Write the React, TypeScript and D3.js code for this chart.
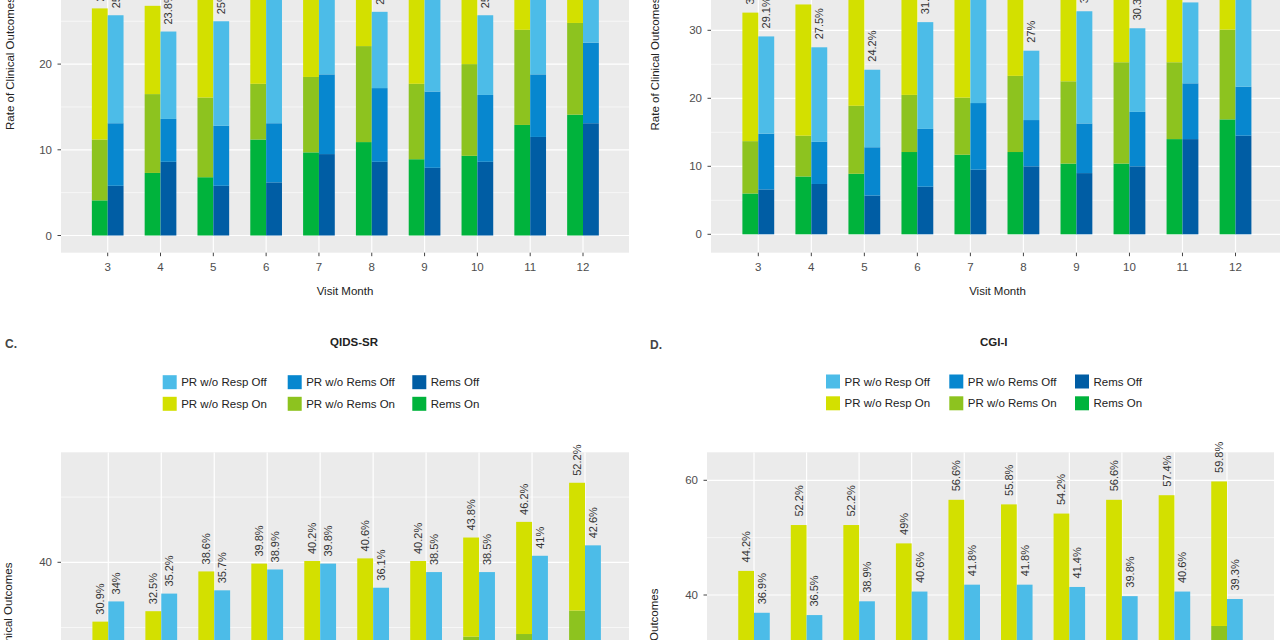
import React from "react";
import * as d3 from "d3";

const months = [3, 4, 5, 6, 7, 8, 9, 10, 11, 12];

// Panel A (top-left, cropped)
const aRemsOn = [4.1, 7.3, 6.8, 11.2, 9.7, 10.9, 8.9, 9.3, 12.9, 14.1];
const aPrRemsOn = [7.1, 9.2, 9.3, 6.5, 8.8, 11.2, 8.8, 10.7, 11.1, 10.7];
const aPrRespOn = [15.3, 10.3, 13.2, 13.8, 12.1, 7.9, 13.3, 10.2, 8.0, 8.2];
const aRemsOff = [5.8, 8.6, 5.8, 6.2, 9.5, 8.6, 7.9, 8.6, 11.5, 13.1];
const aPrRemsOff = [7.3, 5.0, 7.0, 6.9, 9.3, 8.6, 8.9, 7.8, 7.3, 9.4];
const aPrRespOff = [12.6, 10.2, 12.2, 16.4, 10.0, 8.9, 12.2, 9.3, 11.2, 8.5];

// Panel B (top-right, cropped)
const bRemsOn = [6.0, 8.5, 8.9, 12.1, 11.7, 12.1, 10.4, 10.4, 14.0, 16.9];
const bPrRemsOn = [7.7, 6.0, 10.0, 8.4, 8.4, 11.2, 12.1, 14.9, 11.3, 13.2];
const bPrRespOn = [18.9, 19.3, 17.1, 17.5, 16.9, 13.2, 14.5, 12.7, 13.7, 10.9];
const bRemsOff = [6.6, 7.4, 5.7, 7.0, 9.5, 10.0, 9.0, 10.0, 14.0, 14.5];
const bPrRemsOff = [8.2, 6.2, 7.1, 8.5, 9.8, 6.8, 7.3, 8.0, 8.2, 7.2];
const bPrRespOff = [14.3, 13.9, 11.4, 15.7, 16.2, 10.2, 16.5, 12.3, 11.9, 14.3];

// Panel C: QIDS-SR
const cRemsOn = [8, 9, 10, 12, 13, 12, 13, 15, 16, 18];
const cPrRemsOn = [10, 11, 12, 12, 12, 13, 13, 13.6, 13.0, 14.6];
const cPrRespOn = [12.9, 12.5, 16.6, 15.8, 15.2, 15.6, 14.2, 15.2, 17.2, 19.6];
const cRemsOff = [9, 10, 10, 12, 12, 11, 12, 12, 14, 15];
const cPrRemsOff = [9, 10, 10, 10, 11, 10, 11, 11, 11, 12];
const cPrRespOff = [16, 15.2, 15.7, 16.9, 16.8, 15.1, 15.5, 15.5, 16, 15.6];

// Panel D: CGI-I
const dRemsOn = [12, 14, 14, 14, 15, 16, 16, 16, 17, 19];
const dPrRemsOn = [12, 12, 13, 12, 13, 12, 13, 14, 14, 15.6];
const dPrRespOn = [20.2, 26.2, 25.2, 23, 28.6, 27.8, 25.2, 26.6, 26.4, 25.2];
const dRemsOff = [10, 10, 11, 12, 12, 12, 12, 12, 13, 13];
const dPrRemsOff = [10, 10, 11, 11, 12, 12, 12, 11, 11, 11];
const dPrRespOff = [16.9, 16.5, 16.9, 17.6, 17.8, 17.8, 17.4, 16.8, 16.6, 15.3];

const legendOff = ["PR w/o Resp Off", "PR w/o Rems Off", "Rems Off"];
const legendOn = ["PR w/o Resp On", "PR w/o Rems On", "Rems On"];
const yAxisTitle = "Rate of Clinical Outcomes";
const xAxisTitle = "Visit Month";

const COL: Record<string, string> = {
  "Rems On": "#00B33C",
  "PR w/o Rems On": "#8DC31F",
  "PR w/o Resp On": "#D3E000",
  "Rems Off": "#005DA4",
  "PR w/o Rems Off": "#0787CF",
  "PR w/o Resp Off": "#4CBCE8",
};

const FONT = "'Liberation Sans', Arial, Helvetica, sans-serif";
const PANEL_BG = "#EBEBEB";

type PanelProps = {
  left: number;
  right: number;
  top: number;
  bottom: number;
  xRange: [number, number];
  yDomain: [number, number];
  yRange: [number, number];
  majors: number[];
  minors: number[];
  on: number[][];
  off: number[][];
  yLabelPos: [number, number];
  showX: boolean;
  xTitleX?: number;
  gap: number;
  clipId: string;
};

function Panel(p: PanelProps) {
  const x = d3.scaleLinear().domain([3, 12]).range(p.xRange);
  const y = d3.scaleLinear().domain(p.yDomain).range(p.yRange);
  const bw = (x(4) - x(3)) * 0.3;
  const keys = ["rems", "prRems", "prResp"];
  const mk = (arr: number[][]) =>
    months.map((m, i) => ({ m, rems: arr[0][i], prRems: arr[1][i], prResp: arr[2][i] }));
  const stack = d3.stack<any>().keys(keys);
  const onS = stack(mk(p.on));
  const offS = stack(mk(p.off));
  const onCols = [COL["Rems On"], COL["PR w/o Rems On"], COL["PR w/o Resp On"]];
  const offCols = [COL["Rems Off"], COL["PR w/o Rems Off"], COL["PR w/o Resp Off"]];
  const inPanel = (v: number) => y(v) > p.top && y(v) < p.bottom;
  const fmt = (v: number) => `${+v.toFixed(1)}%`;
  const tickFmt = d3.format("d");
  return (
    <g>
      <defs>
        <clipPath id={p.clipId}>
          <rect x={p.left} y={p.top} width={p.right - p.left} height={p.bottom - p.top} />
        </clipPath>
      </defs>
      <rect x={p.left} y={p.top} width={p.right - p.left} height={p.bottom - p.top} fill={PANEL_BG} />
      <g clipPath={`url(#${p.clipId})`}>
        {p.minors.filter(inPanel).map((v) => (
          <line key={"mi" + v} x1={p.left} x2={p.right} y1={y(v)} y2={y(v)} stroke="#fff" strokeWidth={0.6} />
        ))}
        {p.majors.filter(inPanel).map((v) => (
          <line key={"ma" + v} x1={p.left} x2={p.right} y1={y(v)} y2={y(v)} stroke="#fff" strokeWidth={1.2} />
        ))}
        {months.map((m) => (
          <line key={"v" + m} x1={x(m)} x2={x(m)} y1={p.top} y2={p.bottom} stroke="#fff" strokeWidth={1.2} />
        ))}
        {onS.map((layer, li) =>
          layer.map((d, i) => (
            <rect
              key={"on" + li + "-" + i}
              x={x(months[i]) - bw}
              width={bw}
              y={y(d[1])}
              height={y(d[0]) - y(d[1])}
              fill={onCols[li]}
            />
          ))
        )}
        {offS.map((layer, li) =>
          layer.map((d, i) => (
            <rect
              key={"off" + li + "-" + i}
              x={x(months[i])}
              width={bw}
              y={y(d[1])}
              height={y(d[0]) - y(d[1])}
              fill={offCols[li]}
            />
          ))
        )}
      </g>
      {onS[2].map((d, i) => {
        const cx = x(months[i]) - bw / 2;
        const cy = y(d[1]) - p.gap;
        return (
          <text key={"lon" + i} transform={`translate(${cx},${cy}) rotate(-90)`} dominantBaseline="central"
            fontSize={11} fill="#333" fontFamily={FONT}>
            {fmt(d[1])}
          </text>
        );
      })}
      {offS[2].map((d, i) => {
        const cx = x(months[i]) + bw / 2;
        const cy = y(d[1]) - p.gap;
        return (
          <text key={"loff" + i} transform={`translate(${cx},${cy}) rotate(-90)`} dominantBaseline="central"
            fontSize={11} fill="#333" fontFamily={FONT}>
            {fmt(d[1])}
          </text>
        );
      })}
      {p.majors.filter(inPanel).map((v) => (
        <g key={"yt" + v}>
          <line x1={p.left - 3.5} x2={p.left} y1={y(v)} y2={y(v)} stroke="#444" strokeWidth={1} />
          <text x={p.left - 9} y={y(v)} textAnchor="end" dominantBaseline="central" fontSize={11.5}
            fill="#4D4D4D" fontFamily={FONT}>
            {tickFmt(v)}
          </text>
        </g>
      ))}
      {p.showX &&
        months.map((m) => (
          <g key={"xt" + m}>
            <line x1={x(m)} x2={x(m)} y1={p.bottom} y2={p.bottom + 3.5} stroke="#444" strokeWidth={1} />
            <text x={x(m)} y={p.bottom + 14} textAnchor="middle" dominantBaseline="central" fontSize={11.5}
              fill="#4D4D4D" fontFamily={FONT}>
              {m}
            </text>
          </g>
        ))}
      {p.showX && (
        <text x={p.xTitleX} y={p.bottom + 38} textAnchor="middle" dominantBaseline="central" fontSize={11.5}
          fill="#222" fontFamily={FONT}>
          {xAxisTitle}
        </text>
      )}
      <text transform={`translate(${p.yLabelPos[0]},${p.yLabelPos[1]}) rotate(-90)`} textAnchor="middle"
        dominantBaseline="central" fontSize={11.5} fill="#222" fontFamily={FONT}>
        {yAxisTitle}
      </text>
    </g>
  );
}

function Legend({ xs, rows }: { xs: number[]; rows: number[] }) {
  const items = [legendOff, legendOn];
  return (
    <g>
      {items.map((row, ri) =>
        row.map((name, ci) => (
          <g key={name}>
            <rect x={xs[ci]} y={rows[ri]} width={14} height={14} fill={COL[name]} />
            <text x={xs[ci] + 18.5} y={rows[ri] + 7} dominantBaseline="central" fontSize={11.5} fill="#222"
              fontFamily={FONT}>
              {name}
            </text>
          </g>
        ))
      )}
    </g>
  );
}

export default function App() {
  return (
    <svg width={1280} height={640} style={{ position: "absolute", left: 0, top: 0, background: "#fff" }}>
      <rect width={1280} height={640} fill="#fff" />
      <Panel
        left={61} right={629} top={-60} bottom={252.7}
        xRange={[107.7, 583]} yDomain={[0, 20]} yRange={[235.5, 64.1]}
        majors={[0, 10, 20, 30]} minors={[5, 15, 25, 35]}
        on={[aRemsOn, aPrRemsOn, aPrRespOn]} off={[aRemsOff, aPrRemsOff, aPrRespOff]}
        yLabelPos={[10, 63.5]} showX xTitleX={345} gap={7} clipId="cA"
      />
      <Panel
        left={711} right={1290} top={-60} bottom={252.7}
        xRange={[758.3, 1235.5]} yDomain={[0, 30]} yRange={[234.3, 30.3]}
        majors={[0, 10, 20, 30, 40]} minors={[5, 15, 25, 35]}
        on={[bRemsOn, bPrRemsOn, bPrRespOn]} off={[bRemsOff, bPrRemsOff, bPrRespOff]}
        yLabelPos={[655, 64]} showX xTitleX={997.5} gap={8} clipId="cB"
      />
      <Panel
        left={61} right={629} top={452.3} bottom={900}
        xRange={[108.3, 585]} yDomain={[0, 40]} yRange={[823.1, 562.3]}
        majors={[0, 20, 40, 60]} minors={[10, 30, 50]}
        on={[cRemsOn, cPrRemsOn, cPrRespOn]} off={[cRemsOff, cPrRemsOff, cPrRespOff]}
        yLabelPos={[8, 629]} showX={false} gap={7} clipId="cC"
      />
      <Panel
        left={707} right={1274} top={452.3} bottom={900}
        xRange={[754, 1227]} yDomain={[40, 60]} yRange={[595, 480.3]}
        majors={[20, 40, 60]} minors={[30, 50, 70]}
        on={[dRemsOn, dPrRemsOn, dPrRespOn]} off={[dRemsOff, dPrRemsOff, dPrRespOff]}
        yLabelPos={[654, 655]} showX={false} gap={8.5} clipId="cD"
      />
      <text x={5} y={348} fontSize={12} fontWeight="bold" fill="#444" fontFamily={FONT}>C.</text>
      <text x={650} y={349} fontSize={12} fontWeight="bold" fill="#444" fontFamily={FONT}>D.</text>
      <text x={354} y={345.5} textAnchor="middle" fontSize={11.5} fontWeight="bold" fill="#222" fontFamily={FONT}>QIDS-SR</text>
      <text x={993.7} y={345.5} textAnchor="middle" fontSize={11.5} fontWeight="bold" fill="#222" fontFamily={FONT}>CGI-I</text>
      <Legend xs={[162.7, 287.7, 412.3]} rows={[375.2, 396.8]} />
      <Legend xs={[826, 949.3, 1075]} rows={[374.5, 396.3]} />
    </svg>
  );
}
